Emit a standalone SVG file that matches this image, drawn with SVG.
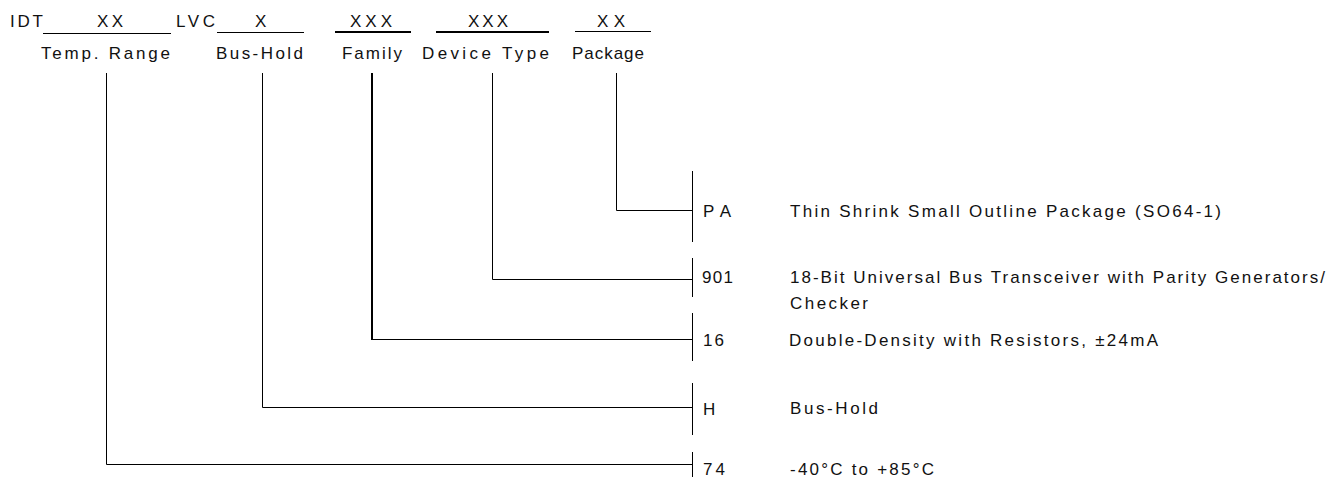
<svg xmlns="http://www.w3.org/2000/svg" width="1335" height="477" viewBox="0 0 1335 477">
<style>
text{font-family:"Liberation Sans",Arial,sans-serif;font-size:17px;fill:#111}
.ln{stroke:#000;stroke-width:1;fill:none}
.th{stroke:#000;stroke-width:2;fill:none}
</style>
<rect width="1335" height="477" fill="#fff"/>
<g id="header">
<g id="idt"><text x="10" y="27" textLength="33" lengthAdjust="spacing">IDT</text></g>
<g id="temp-range">
<text x="97" y="27" textLength="26" lengthAdjust="spacing">XX</text>
<line class="ln" x1="43" y1="33.5" x2="171" y2="33.5"/>
<text x="41" y="59" textLength="129" lengthAdjust="spacing">Temp. Range</text>
</g>
<g id="lvc"><text x="176" y="27" textLength="39" lengthAdjust="spacing">LVC</text></g>
<g id="bus-hold">
<text x="255" y="27" textLength="13" lengthAdjust="spacing">X</text>
<line class="ln" x1="217" y1="32.5" x2="304" y2="32.5"/>
<text x="216" y="59" textLength="87" lengthAdjust="spacing">Bus-Hold</text>
</g>
<g id="family">
<text x="350" y="27" textLength="42" lengthAdjust="spacing">XXX</text>
<line class="th" x1="335" y1="32" x2="411" y2="32"/>
<text x="342" y="59" textLength="60" lengthAdjust="spacing">Family</text>
</g>
<g id="device-type">
<text x="468" y="27" textLength="40" lengthAdjust="spacing">XXX</text>
<line class="th" x1="436" y1="32" x2="549" y2="32"/>
<text x="422" y="59" textLength="127" lengthAdjust="spacing">Device Type</text>
</g>
<g id="package">
<text x="597" y="27" textLength="28" lengthAdjust="spacing">XX</text>
<line class="ln" x1="575" y1="31.5" x2="651" y2="31.5"/>
<text x="572" y="59" textLength="72" lengthAdjust="spacing">Package</text>
</g>
</g>
<g id="connectors">
<polyline class="ln" points="106.5,73 106.5,464.5 692,464.5"/>
<polyline class="ln" points="262.5,73 262.5,407.5 692,407.5"/>
<line class="th" x1="372" y1="73" x2="372" y2="340"/>
<line class="ln" x1="372" y1="339.5" x2="692" y2="339.5"/>
<polyline class="ln" points="492.5,73 492.5,279.5 692,279.5"/>
<polyline class="ln" points="616.5,73 616.5,210.5 692,210.5"/>
<line class="ln" x1="692.5" y1="171" x2="692.5" y2="242"/>
<line class="ln" x1="692.5" y1="258" x2="692.5" y2="297"/>
<line class="ln" x1="692.5" y1="313" x2="692.5" y2="361"/>
<line class="ln" x1="692.5" y1="383" x2="692.5" y2="435"/>
<line class="ln" x1="692.5" y1="452" x2="692.5" y2="477"/>
</g>
<g id="opt-pa">
<text x="703" y="217" textLength="28" lengthAdjust="spacing">PA</text>
<text x="790" y="217" textLength="431" lengthAdjust="spacing">Thin Shrink Small Outline Package (SO64-1)</text>
</g>
<g id="opt-901">
<text x="702" y="283" textLength="31" lengthAdjust="spacing">901</text>
<text x="790" y="283" textLength="535" lengthAdjust="spacing">18-Bit Universal Bus Transceiver with Parity Generators/</text>
<text x="790" y="309" textLength="78" lengthAdjust="spacing">Checker</text>
</g>
<g id="opt-16">
<text x="703" y="346" textLength="21" lengthAdjust="spacing">16</text>
<text x="789" y="346" textLength="369" lengthAdjust="spacing">Double-Density with Resistors, ±24mA</text>
</g>
<g id="opt-h">
<text x="703" y="415">H</text>
<text x="790" y="414" textLength="88" lengthAdjust="spacing">Bus-Hold</text>
</g>
<g id="opt-74">
<text x="703" y="475" textLength="22" lengthAdjust="spacing">74</text>
<text x="790" y="475" textLength="144" lengthAdjust="spacing">-40°C to +85°C</text>
</g>
</svg>
